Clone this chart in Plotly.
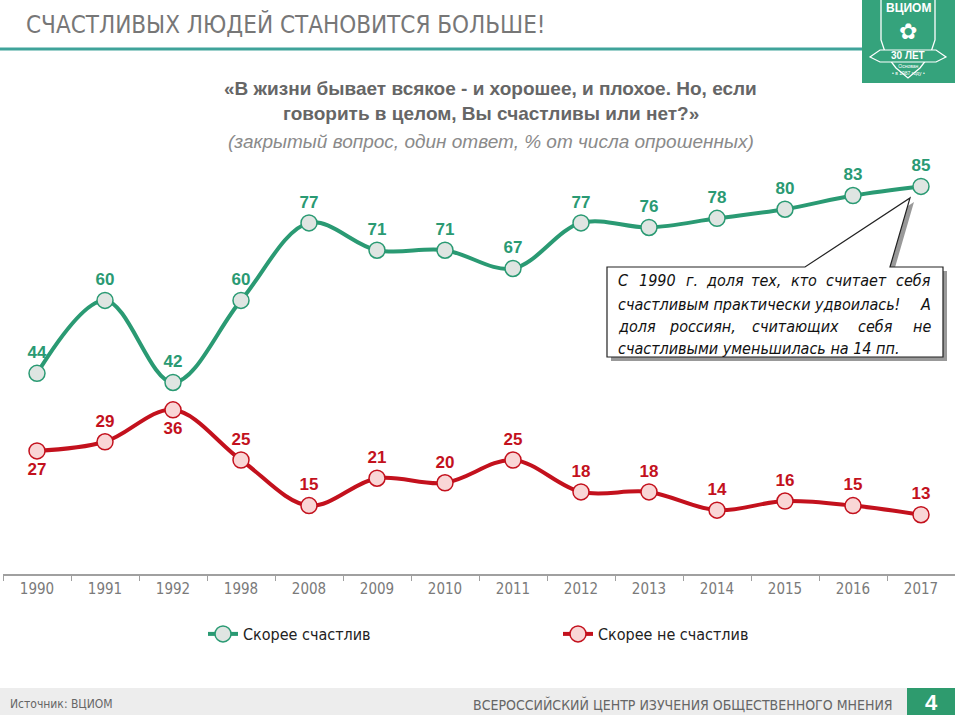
import plotly.graph_objects as go

years = ["1990", "1991", "1992", "1998", "2008", "2009", "2010", "2011",
         "2012", "2013", "2014", "2015", "2016", "2017"]
happy = [44, 60, 42, 60, 77, 71, 71, 67, 77, 76, 78, 80, 83, 85]
unhappy = [27, 29, 36, 25, 15, 21, 20, 25, 18, 18, 14, 16, 15, 13]
unhappy_pos = ["bottom center", "top center", "bottom center"] + ["top center"] * 11

GREEN = "#2a9a73"
RED = "#c3111d"
W, H = 955, 715
ML, MR, MT, MB = 3, 0, 140, 141
PW, PH = W - ML - MR, H - MT - MB
NARROW = "DejaVu Sans Condensed, Liberation Sans Narrow, Arial Narrow, sans-serif"


def px(x):
    return (x - ML) / PW


def py(y):
    return (H - MB - y) / PH


fig = go.Figure()
fig.add_trace(go.Scatter(
    x=years, y=happy, name="Скорее счастлив", mode="lines+markers+text",
    line=dict(color=GREEN, width=4, shape="spline", smoothing=1.0),
    marker=dict(size=16, color="#dfe5e2", line=dict(color=GREEN, width=1.5)),
    text=[f"<b>{v}</b>" for v in happy], textposition="top center",
    textfont=dict(color=GREEN, size=17, family="Liberation Sans, Arial, sans-serif"),
    cliponaxis=False,
))
fig.add_trace(go.Scatter(
    x=years, y=unhappy, name="Скорее не счастлив", mode="lines+markers+text",
    line=dict(color=RED, width=4, shape="spline", smoothing=1.0),
    marker=dict(size=16, color="#f9d6d6", line=dict(color=RED, width=1.5)),
    text=[f"<b>{v}</b>" for v in unhappy], textposition=unhappy_pos,
    textfont=dict(color=RED, size=17, family="Liberation Sans, Arial, sans-serif"),
    cliponaxis=False,
))

shapes = []
annotations = []


def path(points, close=True):
    s = "M " + " L ".join(f"{px(a):.5f},{py(b):.5f}" for a, b in points)
    return s + (" Z" if close else "")


# title underline
shapes.append(dict(type="line", xref="paper", yref="paper", x0=px(0), x1=px(862),
                   y0=py(49), y1=py(49), line=dict(color="#3fa39a", width=3)))
# logo box
shapes.append(dict(type="rect", xref="paper", yref="paper", x0=px(862), x1=px(956),
                   y0=py(0), y1=py(83), fillcolor="#35a37c", line=dict(width=0)))
# shield outline
shapes.append(dict(type="path", xref="paper", yref="paper",
                   path=path([(881, 0), (881, 40), (886, 55), (896, 68), (908, 78),
                              (920, 68), (930, 55), (935, 40), (935, 0)], close=False),
                   line=dict(color="white", width=1.3)))
# banner
shapes.append(dict(type="path", xref="paper", yref="paper",
                   path=path([(880, 50), (936, 50), (946, 57), (936, 62), (880, 62), (870, 57)]),
                   fillcolor="#35a37c", line=dict(color="white", width=1.2)))
# footer band
shapes.append(dict(type="rect", xref="paper", yref="paper", x0=px(0), x1=px(956),
                   y0=py(688), y1=py(716), fillcolor="#ededed", line=dict(width=0)))
shapes.append(dict(type="rect", xref="paper", yref="paper", x0=px(907), x1=px(956),
                   y0=py(688), y1=py(716), fillcolor="#2e9b6e", line=dict(width=0)))

# callout shadow and box with pointer
box = [(607, 267), (805, 267), (910, 198), (890, 267), (943, 267), (943, 357), (607, 357)]
shadow = [(a + 4, b + 4) for a, b in box]
shapes.append(dict(type="path", xref="paper", yref="paper", path=path(shadow),
                   fillcolor="rgba(0,0,0,0.4)", line=dict(width=0)))
shapes.append(dict(type="path", xref="paper", yref="paper", path=path(box),
                   fillcolor="white", line=dict(color="#222", width=1.2)))

# title
annotations.append(dict(xref="paper", yref="paper", x=px(24), y=py(24), xanchor="left",
                        yanchor="middle", showarrow=False,
                        text="СЧАСТЛИВЫХ ЛЮДЕЙ СТАНОВИТСЯ БОЛЬШЕ!",
                        font=dict(size=24, color="#777777", family=NARROW)))
# subtitle
for txt, yy, fnt in [
    ("<b>«В жизни бывает всякое - и хорошее, и плохое. Но, если</b>", 88, "#666666"),
    ("<b>говорить в целом, Вы счастливы или нет?»</b>", 114, "#666666"),
    ("<i>(закрытый вопрос, один ответ, % от числа опрошенных)</i>", 141, "#8a8a8a"),
]:
    annotations.append(dict(xref="paper", yref="paper", x=px(491), y=py(yy), xanchor="center",
                            yanchor="middle", showarrow=False, text=txt,
                            font=dict(size=19, color=fnt, family="Liberation Sans, Arial, sans-serif")))

# callout text (justified: first word left, last word right, others centred)
callout_words = [
    (280, [("С", 616, "left"), ("1990", 657, "center"), ("г.", 692, "center"),
           ("доля", 725, "center"), ("тех,", 766, "center"), ("кто", 804, "center"),
           ("считает", 856, "center"), ("себя", 933, "right")]),
    (304, [("счастливым практически удвоилась!", 616, "left"), ("А", 933, "right")]),
    (326, [("доля", 616, "left"), ("россиян,", 702, "center"), ("считающих", 795, "center"),
           ("себя", 875, "center"), ("не", 933, "right")]),
    (348, [("счастливыми уменьшилась на 14 пп.", 616, "left")]),
]
for yy, words in callout_words:
    for w, xx, anc in words:
        annotations.append(dict(xref="paper", yref="paper", x=px(xx), y=py(yy), xanchor=anc,
                                yanchor="middle", showarrow=False, text=f"<i>{w}</i>",
                                font=dict(size=16, color="#111",
                                          family="DejaVu Sans Condensed, DejaVu Sans, sans-serif")))

# logo texts
annotations.append(dict(xref="paper", yref="paper", x=px(908), y=py(8), xanchor="center",
                        yanchor="middle", showarrow=False, text="<b>ВЦИОМ</b>",
                        font=dict(size=12, color="white", family="Liberation Sans, Arial")))
annotations.append(dict(xref="paper", yref="paper", x=px(908), y=py(31), xanchor="center",
                        yanchor="middle", showarrow=False, text="✿",
                        font=dict(size=22, color="white", family="DejaVu Sans")))
annotations.append(dict(xref="paper", yref="paper", x=px(908), y=py(56), xanchor="center",
                        yanchor="middle", showarrow=False, text="<b>30 ЛЕТ</b>",
                        font=dict(size=10, color="white", family="Liberation Sans, Arial")))
annotations.append(dict(xref="paper", yref="paper", x=px(908), y=py(70), xanchor="center",
                        yanchor="middle", showarrow=False, text="Основан<br>• в 1987 году •",
                        font=dict(size=5, color="white", family="Liberation Sans, Arial")))

# footer texts
annotations.append(dict(xref="paper", yref="paper", x=px(8), y=py(704), xanchor="left",
                        yanchor="middle", showarrow=False, text="Источник: ВЦИОМ",
                        font=dict(size=12, color="#666", family=NARROW)))
annotations.append(dict(xref="paper", yref="paper", x=px(895), y=py(704), xanchor="right",
                        yanchor="middle", showarrow=False,
                        text="ВСЕРОССИЙСКИЙ ЦЕНТР ИЗУЧЕНИЯ ОБЩЕСТВЕННОГО МНЕНИЯ",
                        font=dict(size=14, color="#666", family=NARROW)))
annotations.append(dict(xref="paper", yref="paper", x=px(931), y=py(702), xanchor="center",
                        yanchor="middle", showarrow=False, text="<b>4</b>",
                        font=dict(size=22, color="white", family="Liberation Sans, Arial")))

fig.update_layout(
    width=W, height=H,
    margin=dict(l=ML, r=MR, t=MT, b=MB),
    paper_bgcolor="white", plot_bgcolor="white",
    showlegend=True,
    legend=dict(orientation="h", x=px(203), y=py(634), xanchor="left", yanchor="middle",
                entrywidth=310, entrywidthmode="pixels",
                font=dict(size=16, color="#222", family=NARROW),
                itemwidth=30, bgcolor="rgba(0,0,0,0)"),
    xaxis=dict(type="category", range=[-0.5, 13.5], showgrid=False, showline=True,
               linecolor="#a0a0a0", linewidth=1.5, ticks="outside", ticklen=5,
               tickcolor="#a0a0a0", tickson="boundaries", zeroline=False,
               tickfont=dict(size=15, color="#7a7a7a", family=NARROW)),
    yaxis=dict(range=[0, PH / 4.56], visible=False, showgrid=False, zeroline=False),
    shapes=shapes,
    annotations=annotations,
)

fig.write_html("out.html", config={"displayModeBar": False},
               post_script="document.body.style.margin='0';document.body.style.overflow='hidden';")
